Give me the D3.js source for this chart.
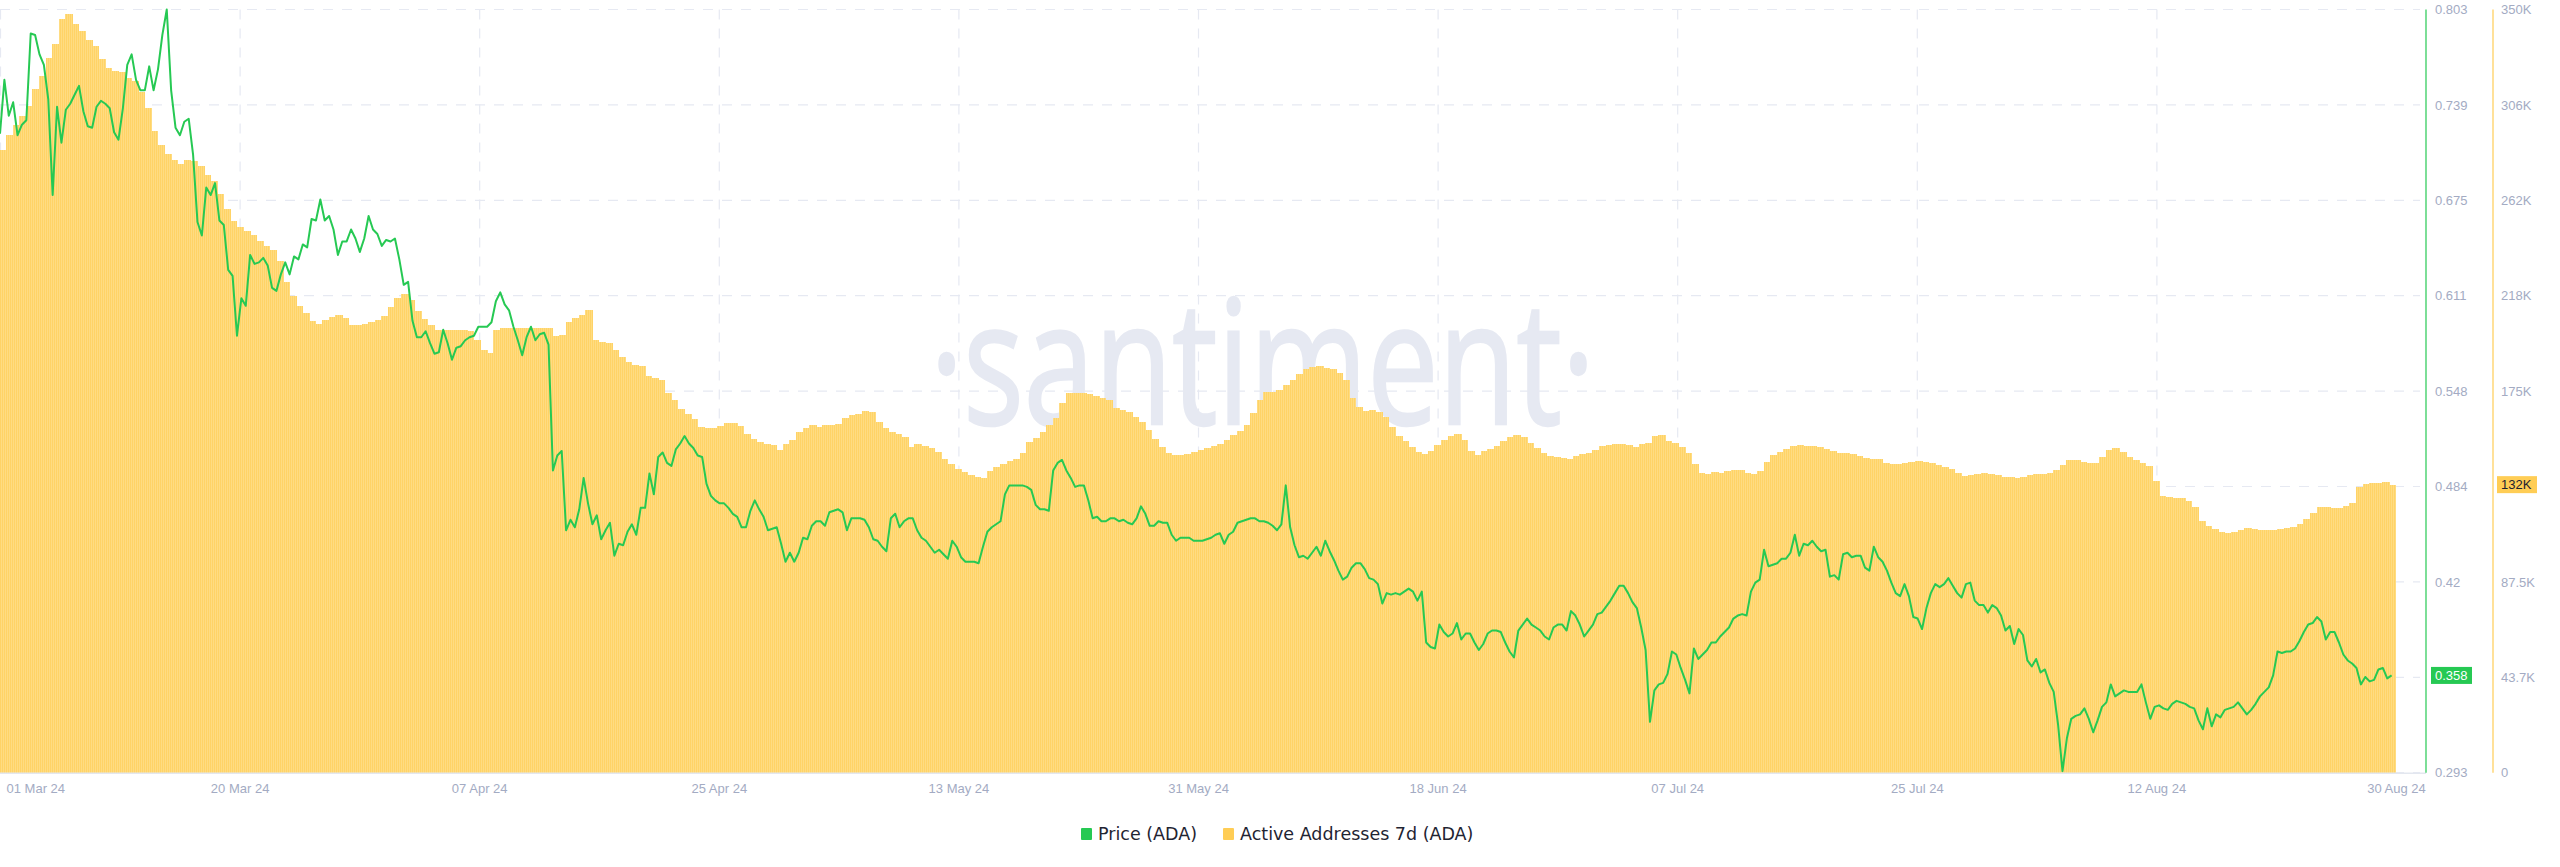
<!DOCTYPE html>
<html><head><meta charset="utf-8">
<script src="https://cdn.jsdelivr.net/npm/d3@7"></script>
<style>
html,body{margin:0;padding:0;background:#fff;}
svg{display:block;}
</style></head><body>
<svg id="chart" width="2560" height="867"></svg>
<script>
// ---------------- DATA ----------------
const startDate = "2024-03-01T00:00:00Z";
const endDate = "2024-08-30T00:00:00Z";
const priceStepHours = 8;     // one price reading every 8 hours
const activeStepHours = 12;   // one active-address bar every 12 hours

const price = [
0.720,0.756,0.732,0.741,0.719,0.726,0.729,0.787,0.786,0.773,
0.766,0.743,0.679,0.738,0.714,0.736,0.740,0.746,0.752,0.735,
0.725,0.724,0.738,0.742,0.740,0.737,0.721,0.716,0.737,0.766,
0.773,0.756,0.749,0.749,0.765,0.749,0.763,0.786,0.803,0.749,
0.724,0.719,0.728,0.730,0.706,0.661,0.652,0.684,0.679,0.687,
0.662,0.659,0.629,0.625,0.585,0.610,0.605,0.639,0.633,0.634,
0.637,0.632,0.617,0.615,0.626,0.634,0.626,0.638,0.636,0.646,
0.644,0.663,0.662,0.676,0.662,0.665,0.656,0.639,0.648,0.648,
0.656,0.650,0.641,0.650,0.665,0.656,0.653,0.645,0.649,0.648,
0.650,0.636,0.619,0.621,0.595,0.584,0.584,0.588,0.580,0.573,
0.574,0.589,0.580,0.569,0.577,0.578,0.582,0.584,0.585,0.591,
0.591,0.591,0.594,0.608,0.614,0.606,0.602,0.591,0.582,0.572,
0.584,0.591,0.582,0.586,0.587,0.579,0.495,0.505,0.508,0.455,
0.462,0.457,0.469,0.490,0.473,0.459,0.465,0.449,0.455,0.460,
0.438,0.446,0.445,0.454,0.459,0.452,0.470,0.470,0.493,0.479,
0.504,0.507,0.500,0.498,0.509,0.513,0.518,0.513,0.510,0.505,
0.504,0.486,0.478,0.475,0.473,0.473,0.470,0.466,0.464,0.457,
0.457,0.468,0.475,0.469,0.464,0.455,0.456,0.457,0.446,0.434,
0.440,0.434,0.440,0.450,0.449,0.458,0.461,0.461,0.458,0.467,
0.468,0.469,0.467,0.455,0.463,0.463,0.463,0.462,0.457,0.449,
0.448,0.444,0.441,0.463,0.466,0.457,0.461,0.463,0.463,0.455,
0.450,0.448,0.444,0.440,0.442,0.439,0.436,0.448,0.444,0.437,
0.434,0.434,0.434,0.433,0.444,0.454,0.457,0.459,0.461,0.479,
0.485,0.485,0.485,0.485,0.484,0.482,0.472,0.469,0.469,0.468,
0.495,0.500,0.502,0.495,0.490,0.484,0.485,0.485,0.475,0.463,
0.464,0.461,0.461,0.463,0.463,0.461,0.462,0.460,0.459,0.463,
0.471,0.466,0.458,0.458,0.461,0.460,0.460,0.452,0.448,0.450,
0.450,0.450,0.448,0.448,0.448,0.449,0.450,0.452,0.453,0.446,
0.452,0.454,0.460,0.461,0.462,0.463,0.463,0.461,0.461,0.460,
0.458,0.455,0.459,0.485,0.457,0.445,0.437,0.438,0.436,0.440,
0.444,0.438,0.448,0.441,0.435,0.428,0.422,0.424,0.430,0.433,
0.433,0.429,0.423,0.422,0.419,0.406,0.413,0.412,0.413,0.412,
0.414,0.416,0.414,0.408,0.414,0.380,0.377,0.376,0.392,0.387,
0.384,0.386,0.393,0.382,0.386,0.386,0.380,0.375,0.379,0.386,
0.388,0.388,0.387,0.380,0.374,0.370,0.388,0.392,0.396,0.392,
0.390,0.388,0.384,0.382,0.390,0.392,0.392,0.388,0.401,0.398,
0.392,0.384,0.388,0.392,0.399,0.400,0.404,0.408,0.413,0.418,
0.418,0.413,0.407,0.403,0.390,0.375,0.327,0.348,0.352,0.353,
0.359,0.374,0.372,0.363,0.355,0.346,0.376,0.369,0.372,0.375,
0.380,0.380,0.384,0.387,0.390,0.396,0.398,0.399,0.398,0.414,
0.420,0.422,0.442,0.431,0.432,0.433,0.436,0.436,0.440,0.452,
0.438,0.446,0.445,0.448,0.444,0.441,0.442,0.424,0.425,0.422,
0.439,0.440,0.437,0.438,0.438,0.430,0.428,0.444,0.437,0.434,
0.428,0.420,0.413,0.411,0.419,0.411,0.397,0.396,0.389,0.403,
0.413,0.419,0.417,0.419,0.423,0.418,0.413,0.410,0.419,0.420,
0.408,0.405,0.405,0.400,0.405,0.403,0.398,0.388,0.391,0.379,
0.389,0.385,0.368,0.364,0.369,0.360,0.362,0.353,0.347,0.325,
0.294,0.316,0.329,0.331,0.332,0.336,0.329,0.320,0.328,0.337,
0.340,0.352,0.344,0.346,0.348,0.347,0.347,0.347,0.352,0.340,
0.329,0.337,0.338,0.336,0.335,0.339,0.341,0.340,0.339,0.337,
0.336,0.328,0.322,0.336,0.324,0.332,0.330,0.335,0.336,0.337,
0.340,0.336,0.332,0.335,0.339,0.344,0.347,0.350,0.358,0.374,
0.373,0.374,0.374,0.376,0.381,0.387,0.392,0.393,0.397,0.394,
0.382,0.387,0.387,0.380,0.372,0.368,0.366,0.363,0.352,0.357,
0.354,0.355,0.362,0.363,0.356,0.358
];

// Active Addresses 7d, in thousands
const activeAddressesK = [
285.5,292.4,297.0,301.1,305.8,313.6,319.5,327.8,334.2,345.6,
348.0,343.4,340.1,336.0,333.2,327.3,323.2,321.8,321.3,318.6,
317.2,312.2,304.8,294.3,287.9,283.7,281.0,279.2,281.0,280.6,
278.3,274.2,271.4,265.4,258.5,253.0,250.3,248.5,246.7,243.9,
241.6,239.7,234.7,225.0,218.6,214.0,210.8,207.2,205.7,207.6,
209.0,209.9,208.5,205.3,205.3,205.8,206.7,207.6,209.4,213.6,
217.7,219.5,216.8,211.7,208.1,205.3,203.0,203.0,203.0,203.0,
203.0,202.6,198.4,193.9,192.5,203.0,203.9,203.9,203.9,203.9,
203.9,203.9,203.9,203.9,200.3,200.8,206.7,208.5,209.9,212.2,
198.4,197.5,197.1,193.9,190.7,188.4,187.0,186.5,181.9,181.0,
180.1,174.1,170.9,166.8,164.5,162.2,158.5,158.1,158.1,159.0,
160.4,160.4,159.0,155.3,153.1,151.7,150.7,150.3,148.0,150.7,
152.6,156.3,158.1,159.5,158.5,159.5,159.5,159.9,162.7,164.0,
164.5,165.9,165.4,160.8,158.1,156.3,155.3,154.0,149.4,150.7,
149.8,148.9,147.1,143.9,141.6,139.3,137.9,136.5,135.6,135.1,
138.3,140.2,141.6,143.0,143.9,146.6,151.7,153.5,156.3,159.5,
162.7,169.5,174.1,174.1,174.1,173.7,172.8,171.9,170.9,167.2,
166.3,165.4,163.1,160.8,157.2,153.1,149.4,146.6,145.7,145.7,
146.1,147.1,148.0,148.9,149.8,150.7,152.6,154.8,156.7,159.5,
165.0,170.9,174.6,174.6,175.5,177.8,180.1,182.8,185.1,186.0,
186.5,185.6,185.1,183.3,180.1,171.9,167.7,165.9,166.3,165.4,
163.1,158.5,154.4,152.1,149.4,147.1,146.1,147.5,150.3,152.6,
154.4,155.3,152.6,147.5,145.7,147.5,148.4,149.8,152.1,153.9,
154.8,153.9,151.2,148.9,146.6,145.2,144.8,144.3,143.9,145.2,
146.1,146.6,148.0,149.8,150.3,150.7,150.7,150.3,149.4,150.7,
151.2,154.4,154.8,152.1,151.2,149.4,146.6,141.6,137.4,137.0,
137.9,137.4,138.3,138.8,138.8,137.4,137.0,138.3,142.5,145.7,
147.1,148.4,149.8,150.3,149.8,149.8,149.4,148.4,147.5,146.6,
146.6,146.1,145.2,144.5,144.0,143.9,142.0,141.6,141.6,142.0,
142.3,142.9,142.5,141.8,141.3,140.3,139.3,137.4,136.1,136.5,
137.2,137.4,137.1,136.5,135.8,135.4,135.2,135.7,136.5,137.1,
137.2,137.5,138.6,141.1,143.2,143.2,142.3,141.8,142.0,144.8,
148.2,148.9,147.3,144.8,143.2,141.8,140.7,133.8,126.9,126.4,
126.1,125.8,124.6,121.9,115.2,113.0,111.8,110.4,109.8,110.3,
111.3,112.2,111.8,111.4,111.3,111.5,111.9,112.2,112.5,114.1,
116.3,119.1,121.9,121.9,121.4,121.4,122.1,123.7,131.0,132.2,
132.9,133.0,133.3,132.1
];

// x-axis tick positions (days after start) and their labels
const xTickDays = [0, 18.2, 36.4, 54.6, 72.8, 91, 109.2, 127.4, 145.6, 163.8, 182];
const xTickLabels = ["01 Mar 24","20 Mar 24","07 Apr 24","25 Apr 24","13 May 24","31 May 24","18 Jun 24","07 Jul 24","25 Jul 24","12 Aug 24","30 Aug 24"];

const priceTickValues = [0.293, 0.35675, 0.4205, 0.48425, 0.548, 0.61175, 0.6755, 0.73925, 0.803];
const priceTickLabels = ["0.293","0.356","0.42","0.484","0.548","0.611","0.675","0.739","0.803"];
const activeTickValues = [0, 43750, 87500, 131250, 175000, 218750, 262500, 306250, 350000];
const activeTickLabels = ["0","43.7K","87.5K","131K","175K","218K","262K","306K","350K"];

const seriesNames = ["Price (ADA)", "Active Addresses 7d (ADA)"];

// ---------------- STYLE / LAYOUT ----------------
const GREEN = "#26c953";
const YELLOW = "#ffcd55";
const GRID = "#e6e9f2";
const TICK_TXT = "#a3abc3";
const plotTop = 9.5, plotBottom = 772.7, plotRight = 2396;
const priceAxisX = 2426, activeAxisX = 2493;
const HOUR = 3600e3, DAY = 24 * HOUR;

const t0 = new Date(startDate).getTime();
const t1 = new Date(endDate).getTime();

const priceData = price.map((v, i) => ({ t: t0 + i * priceStepHours * HOUR, v }));
const activeData = activeAddressesK.map((v, i) => ({ t: t0 + i * activeStepHours * HOUR, v: v * 1000 }));

const x = d3.scaleUtc().domain([t0, t1]).range([0, plotRight]);
const yPrice = d3.scaleLinear().domain([0.293, 0.803]).range([plotBottom, plotTop]);
const yActive = d3.scaleLinear().domain([0, 350000]).range([plotBottom, plotTop]);

const svg = d3.select("#chart");
const defs = svg.append("defs");
const pat = defs.append("pattern").attr("id", "barStripes")
  .attr("patternUnits", "userSpaceOnUse").attr("width", 2).attr("height", 8);
pat.append("rect").attr("width", 2).attr("height", 8).attr("fill", "#ffdc82");
pat.append("rect").attr("width", 1).attr("height", 8).attr("fill", "#ffd366");

// grid
const grid = svg.append("g");
grid.selectAll("line.h").data(priceTickValues).join("line")
  .attr("x1", 0).attr("x2", 2420)
  .attr("y1", d => yPrice(d)).attr("y2", d => yPrice(d))
  .attr("stroke", GRID).attr("stroke-width", 1.2).attr("stroke-dasharray", "10,9");
const xTickTimes = xTickDays.map(d => t0 + d * DAY);
grid.selectAll("line.v").data(xTickTimes.slice(0, -1)).join("line")
  .attr("x1", d => x(d) + 0.5).attr("x2", d => x(d) + 0.5)
  .attr("y1", plotTop).attr("y2", plotBottom)
  .attr("stroke", GRID).attr("stroke-width", 1.2).attr("stroke-dasharray", "10,9");

// watermark
svg.append("text")
  .attr("x", 930).attr("y", 424)
  .attr("textLength", 665).attr("lengthAdjust", "spacingAndGlyphs")
  .attr("font-family", "'Open Sans', 'Noto Sans', sans-serif")
  .attr("font-size", 172).attr("fill", "#e6e9f2")
  .attr("stroke", "#e6e9f2").attr("stroke-width", 2.5)
  .text("\u00B7santiment\u00B7");

// bars
svg.append("g").attr("shape-rendering", "crispEdges")
  .selectAll("rect").data(activeData).join("rect")
  .attr("x", d => Math.floor(x(d.t)))
  .attr("width", d => Math.ceil(x(d.t + activeStepHours * HOUR)) - Math.floor(x(d.t)))
  .attr("y", d => yActive(d.v))
  .attr("height", d => yActive(0) - yActive(d.v))
  .attr("fill", "url(#barStripes)");

// price line
svg.append("path").datum(priceData)
  .attr("fill", "none").attr("stroke", GREEN).attr("stroke-width", 2)
  .attr("stroke-linejoin", "round")
  .attr("d", d3.line().x(d => x(d.t)).y(d => yPrice(d.v)));

// bottom axis
const xAxis = d3.axisBottom(x).tickValues(xTickTimes)
  .tickFormat((d, i) => xTickLabels[i]).tickSize(0).tickPadding(11);
const gx = svg.append("g").attr("transform", `translate(0,${plotBottom})`).call(xAxis);
gx.select(".domain").remove();
gx.selectAll("text").attr("fill", TICK_TXT).attr("font-size", 13)
  .attr("font-family", "'Liberation Sans', Arial, sans-serif");
gx.selectAll(".tick").filter((d, i) => i === 0).select("text")
  .attr("text-anchor", "start").attr("dx", 6);
svg.append("line").attr("x1", 0).attr("x2", priceAxisX)
  .attr("y1", plotBottom + 0.5).attr("y2", plotBottom + 0.5)
  .attr("stroke", "#e3e7ef").attr("stroke-width", 1.5);

// right axes
function rightAxis(scale, vals, labels, xPos, color, pad) {
  const ax = d3.axisRight(scale).tickValues(vals)
    .tickFormat((d, i) => labels[i]).tickSize(0).tickPadding(pad);
  const g = svg.append("g").attr("transform", `translate(${xPos},0)`).call(ax);
  g.select(".domain").remove();
  g.selectAll("text").attr("fill", TICK_TXT).attr("font-size", 13)
    .attr("font-family", "'Liberation Sans', Arial, sans-serif");
  svg.append("line").attr("x1", xPos).attr("x2", xPos)
    .attr("y1", plotTop).attr("y2", plotBottom)
    .attr("stroke", color).attr("stroke-width", 1.2);
}
rightAxis(yPrice, priceTickValues, priceTickLabels, priceAxisX, GREEN, 9);
rightAxis(yActive, activeTickValues, activeTickLabels, activeAxisX, YELLOW, 8);

// last-value badges
const lastPrice = priceData[priceData.length - 1].v;
const lastActive = activeData[activeData.length - 1].v;
const pb = svg.append("g").attr("transform", `translate(${priceAxisX + 5},${yPrice(lastPrice)})`);
pb.append("rect").attr("x", 0).attr("y", -8.5).attr("width", 41).attr("height", 17).attr("fill", GREEN);
pb.append("text").attr("x", 4).attr("y", 0).attr("dy", "0.35em").attr("fill", "#fff")
  .attr("font-size", 13).attr("font-family", "'Liberation Sans', Arial, sans-serif")
  .text(d3.format(".3f")(lastPrice));
const ab = svg.append("g").attr("transform", `translate(${activeAxisX + 4},${yActive(lastActive)})`);
ab.append("rect").attr("x", 0).attr("y", -8.5).attr("width", 40).attr("height", 17).attr("fill", YELLOW);
ab.append("text").attr("x", 4).attr("y", 0).attr("dy", "0.35em").attr("fill", "#1d2230")
  .attr("font-size", 13).attr("font-family", "'Liberation Sans', Arial, sans-serif")
  .text(d3.format(".3~s")(lastActive).toUpperCase());

// legend
const legend = svg.append("g").attr("transform", "translate(0,834)");
const items = [{ name: seriesNames[0], color: GREEN, x: 1081 }, { name: seriesNames[1], color: YELLOW, x: 1223 }];
items.forEach(it => {
  legend.append("rect").attr("x", it.x).attr("y", -6).attr("width", 11).attr("height", 12)
    .attr("rx", 1).attr("fill", it.color);
  legend.append("text").attr("x", it.x + 17).attr("y", 0).attr("dy", "0.35em")
    .attr("font-family", "'DejaVu Sans', sans-serif").attr("font-size", 17.5)
    .attr("fill", "#1f2432").text(it.name);
});
</script>
</body></html>
